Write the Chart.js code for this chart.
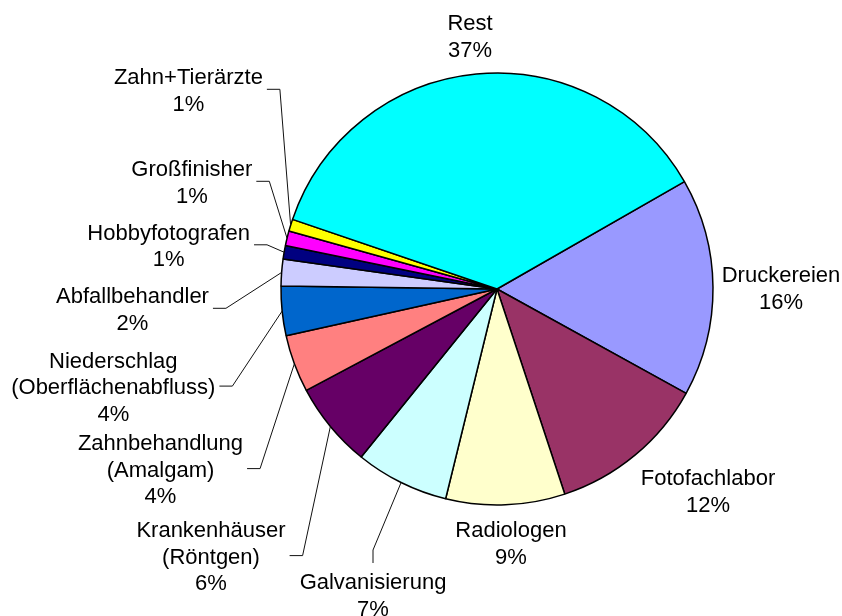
<!DOCTYPE html>
<html><head><meta charset="utf-8">
<script src="https://cdn.jsdelivr.net/npm/chart.js@4/dist/chart.umd.min.js"></script>
<style>html,body{margin:0;padding:0;background:#fff}#wrap{width:842px;height:616px;position:relative}</style>
</head><body><div id="wrap"><canvas id="c"></canvas></div>
<script>
// ---- data ----
const categories = [
  ['Druckereien'], ['Fotofachlabor'], ['Radiologen'], ['Galvanisierung'],
  ['Krankenhäuser', '(Röntgen)'], ['Zahnbehandlung', '(Amalgam)'],
  ['Niederschlag', '(Oberflächenabfluss)'], ['Abfallbehandler'],
  ['Hobbyfotografen'], ['Großfinisher'], ['Zahn+Tierärzte'], ['Rest']
];
const shares = [16.3, 11.9, 8.9, 7.0, 6.4, 4.3, 3.7, 2.0, 1.0, 1.1, 0.9, 36.5];
const colors = ['#9999FF', '#993366', '#FFFFCC', '#CCFFFF', '#660066', '#FF8080',
                '#0066CC', '#CCCCFF', '#000080', '#FF00FF', '#FFFF00', '#00FFFF'];

// ---- label layout: [text centre x, first baseline y], leader style ----
const labelPos = [
  [781, 282], [708, 485], [511, 537], [373, 589],
  [211, 537], [160.5, 450], [113.3, 367.5], [132.5, 303],
  [168.7, 239.5], [191.8, 176], [188.4, 84], [470, 30]
];
const leaderType = ['none','none','none','top','left','left','left','left','left','left','left','none'];
const LINE_H = 26.6;
const FONT = '22px "Liberation Sans", Arial, sans-serif';

const labelPlugin = {
  id: 'pieLabels',
  afterDatasetsDraw(chart) {
    const ctx = chart.ctx;
    const meta = chart.getDatasetMeta(0);
    const total = shares.reduce((a, b) => a + b, 0);
    ctx.save();
    ctx.font = FONT;
    ctx.fillStyle = '#000';
    ctx.textAlign = 'center';
    ctx.textBaseline = 'alphabetic';
    meta.data.forEach((arc, i) => {
      const p = arc.getProps(['x', 'y', 'startAngle', 'endAngle', 'outerRadius'], true);
      const mid = (p.startAngle + p.endAngle) / 2;
      const ex = p.x + Math.cos(mid) * p.outerRadius;
      const ey = p.y + Math.sin(mid) * p.outerRadius;
      const lines = categories[i].concat([Math.round(shares[i] / total * 100) + '%']);
      const [cx, by] = labelPos[i];
      lines.forEach((t, k) => ctx.fillText(t, cx, by + k * LINE_H));
      const w = Math.max(...lines.map(t => ctx.measureText(t).width));
      const lastB = by + (lines.length - 1) * LINE_H;
      const midY = (by + lastB) / 2 - 8;
      let pts = null;
      if (leaderType[i] === 'left') {
        const x0 = cx + w / 2 + 4;
        pts = [[x0, midY], [x0 + 13, midY], [ex, ey]];
      } else if (leaderType[i] === 'top') {
        const y0 = by - 26;
        pts = [[cx, y0], [cx, y0 - 13], [ex, ey]];
      }
      if (pts) {
        ctx.beginPath();
        ctx.moveTo(pts[0][0], pts[0][1]);
        pts.slice(1).forEach(q => ctx.lineTo(q[0], q[1]));
        ctx.lineWidth = 1;
        ctx.strokeStyle = '#111';
        ctx.stroke();
      }
    });
    ctx.restore();
  }
};

Chart.defaults.font.family = '"Liberation Sans", Arial, sans-serif';
new Chart(document.getElementById('c'), {
  type: 'pie',
  data: {
    labels: categories,
    datasets: [{
      data: shares,
      backgroundColor: colors,
      borderColor: '#000',
      borderWidth: 1.5
    }]
  },
  options: {
    responsive: true,
    maintainAspectRatio: false,
    animation: false,
    rotation: 60.2,
    radius: 216,
    layout: { padding: { left: 280, right: 128, top: 72, bottom: 110 } },
    plugins: { legend: { display: false }, tooltip: { enabled: false } }
  },
  plugins: [labelPlugin]
});
</script>
</body></html>
